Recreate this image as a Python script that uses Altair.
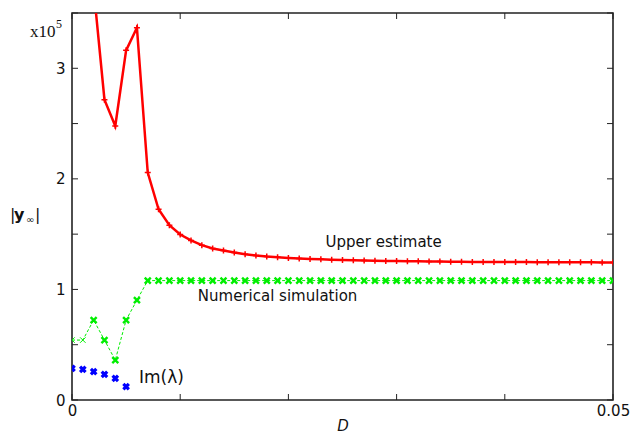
import altair as alt
import pandas as pd

# Parameter grid D and the three series (values in units of 1e5)
d_values = [round(i * 0.001, 3) for i in range(51)]

upper_estimate = [
    4.6, 4.1, 3.72, 2.716, 2.478, 3.162, 3.367, 2.057, 1.725, 1.581,
    1.497, 1.443, 1.400, 1.370, 1.352, 1.334, 1.319, 1.307, 1.298, 1.292,
    1.285, 1.280, 1.276, 1.272, 1.269, 1.266, 1.264, 1.262, 1.260, 1.258,
    1.257, 1.255, 1.254, 1.253, 1.252, 1.251, 1.250, 1.249, 1.249, 1.248,
    1.248, 1.247, 1.247, 1.246, 1.246, 1.246, 1.245, 1.245, 1.245, 1.244,
    1.244,
]

numerical_sim = [
    0.542, 0.542, 0.723, 0.542, 0.361, 0.723, 0.903, 1.08, 1.08, 1.08,
    1.08, 1.08, 1.08, 1.08, 1.08, 1.08, 1.08, 1.08, 1.08, 1.08,
    1.08, 1.08, 1.08, 1.08, 1.08, 1.08, 1.08, 1.08, 1.08, 1.08,
    1.08, 1.08, 1.08, 1.08, 1.08, 1.08, 1.08, 1.08, 1.08, 1.08,
    1.08, 1.08, 1.08, 1.08, 1.08, 1.08, 1.08, 1.08, 1.08, 1.08,
    1.08,
]

im_lambda_d = [0.0, 0.001, 0.002, 0.003, 0.004, 0.005]
im_lambda = [0.286, 0.277, 0.256, 0.232, 0.196, 0.120]

x_ticks = [0.0, 0.01, 0.02, 0.03, 0.04, 0.05]
y_ticks = [0.0, 0.5, 1.0, 1.5, 2.0, 2.5, 3.0, 3.5]

W, H = 541, 387
TICK = 6

upper_df = pd.DataFrame({"D": d_values, "v": upper_estimate})
sim_df = pd.DataFrame({"D": d_values, "v": numerical_sim})
sim_df["thin"] = [i < 2 for i in range(len(sim_df))]
im_df = pd.DataFrame({"D": im_lambda_d, "v": im_lambda})
xt_df = pd.DataFrame({"D": x_ticks})
yt_df = pd.DataFrame({"v": y_ticks})

x_scale = alt.Scale(domain=[0, 0.05], nice=False, zero=False)
y_scale = alt.Scale(domain=[0, 3.5], nice=False)

X = alt.X("D:Q", scale=x_scale, title="D",
          axis=alt.Axis(values=[0, 0.05], format="~g", tickSize=0, domain=False,
                        grid=False, labelPadding=3, labelFontSize=15,
                        labelFont="DejaVu Sans", labelColor="#111",
                        labelFlush=False,
                        titleFont="DejaVu Sans", titleFontStyle="italic",
                        titleFontWeight="normal", titleFontSize=15,
                        titlePadding=0, titleColor="#111"))
Y = alt.Y("v:Q", scale=y_scale, title=None,
          axis=alt.Axis(values=[0, 1, 2, 3], format="d", tickSize=0, domain=False,
                        grid=False, labelPadding=7, labelFontSize=15,
                        labelFont="DejaVu Sans", labelColor="#111",
                        labelFlush=False))

X_MARK = "M-1,-1L1,1M-1,1L1,-1"
PLUS_MARK = "M-1,0L1,0M0,-1L0,1"

# Upper estimate: thick red line with small plus markers
upper_line = alt.Chart(upper_df).mark_line(
    color="#ff0000", strokeWidth=2.5, clip=True
).encode(x=X, y=Y)
upper_pts = alt.Chart(upper_df).mark_point(
    shape=PLUS_MARK, size=36, color="#ff0000", strokeWidth=1.5, clip=True, opacity=1
).encode(x=X, y=Y)

# Numerical simulation: thin dashed green line with x markers
sim_line = alt.Chart(sim_df).mark_line(
    color="#00ee00", strokeWidth=1, strokeDash=[3, 2], clip=True
).encode(x=X, y=Y)
sim_pts_bold = alt.Chart(sim_df[~sim_df["thin"]]).mark_point(
    shape=X_MARK, size=36, color="#00ee00", strokeWidth=2.4, clip=True, opacity=1
).encode(x=X, y=Y)
sim_pts_thin = alt.Chart(sim_df[sim_df["thin"]]).mark_point(
    shape=X_MARK, size=30, color="#00ee00", strokeWidth=1, clip=True, opacity=1
).encode(x=X, y=Y)

# Im(lambda): bold blue x markers only
im_pts = alt.Chart(im_df).mark_point(
    shape=X_MARK, size=30, color="#0000ff", strokeWidth=3.2, clip=True, opacity=1
).encode(x=X, y=Y)

# Inward ticks on all four sides
tick_style = dict(color="#222", strokeWidth=1)
xt_bottom = alt.Chart(xt_df).mark_rule(**tick_style).encode(
    x=X, y=alt.value(H), y2=alt.value(H - TICK))
xt_top = alt.Chart(xt_df).mark_rule(**tick_style).encode(
    x=X, y=alt.value(0), y2=alt.value(TICK))
yt_left = alt.Chart(yt_df).mark_rule(**tick_style).encode(
    y=Y, x=alt.value(0), x2=alt.value(TICK))
yt_right = alt.Chart(yt_df).mark_rule(**tick_style).encode(
    y=Y, x=alt.value(W), x2=alt.value(W - TICK))

# Series labels placed in data coordinates
labels_df = pd.DataFrame({
    "D": [0.0288, 0.0190, 0.00827],
    "v": [1.427, 0.939, 0.199],
    "t": ["Upper estimate", "Numerical simulation", "Im(λ)"],
    "fs": [15, 15, 17],
})
series_labels = alt.Chart(labels_df).mark_text(
    font="DejaVu Sans", color="#111", align="center", baseline="middle"
).encode(x=X, y=Y, text="t:N", size=alt.Size("fs:Q", scale=None, legend=None))

# Axis scale factor "x10^5" above the y axis
exp_base = alt.Chart(pd.DataFrame({"t": ["x10"]})).mark_text(
    font="Liberation Serif", fontSize=17, color="#111", align="left", baseline="alphabetic"
).encode(x=alt.value(-42), y=alt.value(24), text="t:N")
exp_sup = alt.Chart(pd.DataFrame({"t": ["5"]})).mark_text(
    font="Liberation Serif", fontSize=12, color="#111", align="left", baseline="alphabetic"
).encode(x=alt.value(-16), y=alt.value(15), text="t:N")

# Y axis title |y∞| with a bold y and small infinity subscript
bar_l = alt.Chart(pd.DataFrame({"t": ["|"]})).mark_text(
    font="DejaVu Sans", fontSize=16, color="#111", align="left", baseline="middle"
).encode(x=alt.value(-62), y=alt.value(202), text="t:N")
y_bold = alt.Chart(pd.DataFrame({"t": ["y"]})).mark_text(
    font="DejaVu Sans", fontSize=16, fontWeight="bold", color="#111", align="left",
    baseline="middle"
).encode(x=alt.value(-58), y=alt.value(202), text="t:N")
inf_sub = alt.Chart(pd.DataFrame({"t": ["∞"]})).mark_text(
    font="DejaVu Sans", fontSize=10, color="#111", align="left", baseline="middle"
).encode(x=alt.value(-46), y=alt.value(207), text="t:N")
bar_r = alt.Chart(pd.DataFrame({"t": ["|"]})).mark_text(
    font="DejaVu Sans", fontSize=16, color="#111", align="left", baseline="middle"
).encode(x=alt.value(-37), y=alt.value(202), text="t:N")

chart = alt.layer(
    upper_line, sim_line, sim_pts_thin, sim_pts_bold, upper_pts, im_pts,
    xt_bottom, xt_top, yt_left, yt_right,
    series_labels, exp_base, exp_sup, bar_l, y_bold, inf_sub, bar_r,
).properties(
    width=W, height=H,
    autosize=alt.AutoSizeParams(type="none"),
    padding={"left": 72, "top": 13, "right": 18, "bottom": 34},
    background="white",
).configure_view(
    stroke="#222", strokeWidth=1.6
)

chart.save("out.html", embed_options={"renderer": "svg", "actions": False})
